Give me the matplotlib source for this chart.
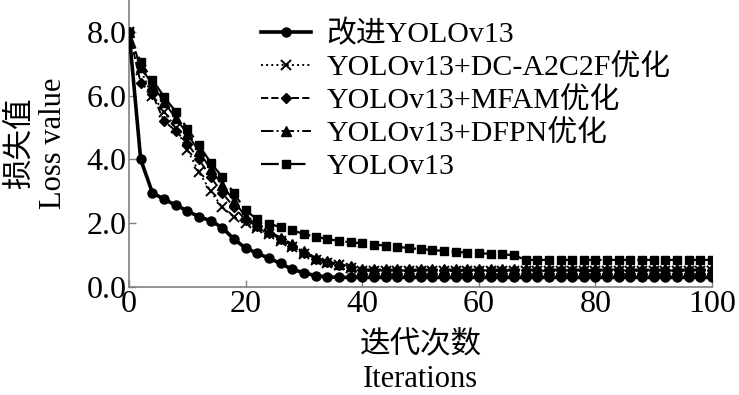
import numpy as np
import matplotlib.pyplot as plt

# fuentes: Times-like para latín, CJK como respaldo
plt.rcParams['font.family'] = ['Liberation Serif', 'Noto Sans CJK SC']

iteraciones = list(range(0, 101, 2))

mejorado = [8.0, 4.0, 2.96, 2.75, 2.57, 2.39, 2.2, 2.08, 1.86, 1.5,
            1.22, 1.06, 0.9, 0.74, 0.55, 0.45, 0.35, 0.32,
            0.3, 0.3, 0.3, 0.3, 0.3, 0.3, 0.3, 0.3, 0.3, 0.3, 0.3,
            0.3, 0.3, 0.3, 0.3, 0.3, 0.3, 0.3, 0.3, 0.3, 0.3, 0.3,
            0.3, 0.3, 0.3, 0.3, 0.3, 0.3, 0.3, 0.3, 0.3, 0.3, 0.3]

dc_a2c2f = [8.0, 6.8, 6.0, 5.5, 5.0, 4.3, 3.6, 3.0, 2.5, 2.2,
            2.0, 1.85, 1.65, 1.45, 1.25, 1.05, 0.85, 0.75, 0.68, 0.6,
            0.5, 0.5, 0.5, 0.5, 0.5, 0.5, 0.5, 0.5, 0.5, 0.5,
            0.5, 0.5, 0.5, 0.5, 0.5, 0.5, 0.5, 0.5, 0.5, 0.5,
            0.5, 0.5, 0.5, 0.5, 0.5, 0.5, 0.5, 0.5, 0.5, 0.5, 0.5]

mfam = [8.0, 6.4, 6.05, 5.2, 4.9, 4.5, 4.0, 3.45, 2.95, 2.5,
        2.1, 1.9, 1.7, 1.5, 1.3, 1.08, 0.88, 0.78, 0.7, 0.62,
        0.53, 0.52, 0.52, 0.52, 0.52, 0.52, 0.52, 0.52, 0.52, 0.52,
        0.52, 0.52, 0.52, 0.52, 0.52, 0.52, 0.52, 0.52, 0.52, 0.52,
        0.52, 0.52, 0.52, 0.52, 0.52, 0.52, 0.52, 0.52, 0.52, 0.52, 0.52]

dfpn = [8.0, 6.9, 6.35, 5.8, 5.3, 4.8, 4.25, 3.7, 3.2, 2.7,
        2.2, 1.95, 1.75, 1.55, 1.35, 1.12, 0.92, 0.8, 0.72, 0.65,
        0.56, 0.55, 0.55, 0.55, 0.55, 0.55, 0.55, 0.55, 0.55, 0.55,
        0.55, 0.55, 0.55, 0.55, 0.55, 0.55, 0.55, 0.55, 0.55, 0.55,
        0.55, 0.55, 0.55, 0.55, 0.55, 0.55, 0.55, 0.55, 0.55, 0.55, 0.55]

yolov13 = [8.0, 7.05, 6.5, 5.97, 5.5, 4.97, 4.45, 3.9, 3.45, 2.94,
           2.4, 2.12, 1.98, 1.88, 1.78, 1.66, 1.58, 1.5, 1.45, 1.4,
           1.37, 1.33, 1.3, 1.26, 1.22, 1.19, 1.16, 1.13, 1.1, 1.08,
           1.06, 1.04, 1.02, 1.0, 0.85, 0.85, 0.85, 0.85, 0.85, 0.85,
           0.85, 0.85, 0.85, 0.85, 0.85, 0.85, 0.85, 0.85, 0.85, 0.85, 0.85]

etiquetas = ['改进YOLOv13', 'YOLOv13+DC-A2C2F优化', 'YOLOv13+MFAM优化',
             'YOLOv13+DFPN优化', 'YOLOv13']

fig = plt.figure(figsize=(7.39, 3.95), dpi=100)
ax = fig.add_axes([0.1746, 0.2734, 0.789, 0.7266])

ax.plot(iteraciones, mejorado, '-', color='black', lw=2.6, marker='o', ms=6.5,
        label=etiquetas[0], zorder=5)
ax.plot(iteraciones, dc_a2c2f, ':', color='black', lw=1.4, marker='x', ms=7,
        mew=1.4, label=etiquetas[1])
ax.plot(iteraciones, mfam, '--', color='black', lw=1.4, marker='D', ms=5,
        label=etiquetas[2])
ax.plot(iteraciones, dfpn, '-.', color='black', lw=1.4, marker='^', ms=6.5,
        label=etiquetas[3])
ax.plot(iteraciones, yolov13, color='black', lw=1.6, dashes=(8, 4), marker='s',
        ms=6, label=etiquetas[4])

ax.set_xlim(0, 100)
ax.set_ylim(0, 9)
ax.set_xticks([0, 20, 40, 60, 80, 100])
ax.set_yticks([0, 2, 4, 6, 8])
ax.set_yticklabels(['0.0', '2.0', '4.0', '6.0', '8.0'])

for lado in ['top', 'right']:
    ax.spines[lado].set_visible(False)
for lado in ['left', 'bottom']:
    ax.spines[lado].set_color('#808080')
    ax.spines[lado].set_linewidth(1.2)
ax.tick_params(direction='in', color='#808080', length=5, width=1,
               labelsize=23, pad=2)

ax.set_xlabel('迭代次数\nIterations', fontsize=22, linespacing=1.3, labelpad=8)
ax.set_ylabel('损失值\nLoss value', fontsize=22, linespacing=1.2, labelpad=13)

ax.legend(loc='upper left', bbox_to_anchor=(0.222, 0.94), frameon=False,
          fontsize=21.5, handlelength=1.67, handletextpad=0.5,
          labelspacing=0.2, borderaxespad=0, borderpad=0.1)

fig.savefig('out.png', dpi=100)
